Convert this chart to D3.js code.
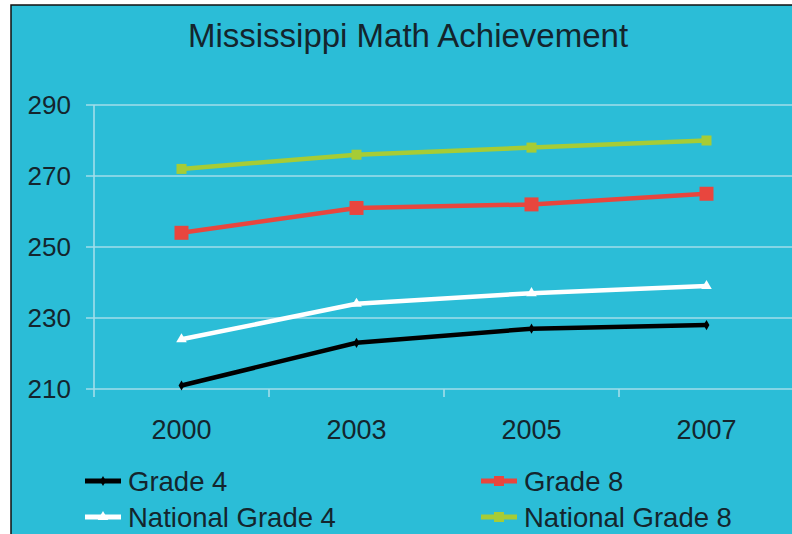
<!DOCTYPE html>
<html>
<head>
<meta charset="utf-8">
<script src="https://cdn.jsdelivr.net/npm/d3@7"></script>
<style>
  body { margin: 0; background: #fff; }
  text { font-family: "Liberation Sans", Arial, sans-serif; fill: #14252d; }
</style>
</head>
<body>
<div id="chart"></div>
<script>
// data
var years = ["2000", "2003", "2005", "2007"];
var grade4 = [211, 223, 227, 228];
var grade8 = [254, 261, 262, 265];
var national4 = [224, 234, 237, 239];
var national8 = [272, 276, 278, 280];
var yTicks = [210, 230, 250, 270, 290];

var series = [
  { name: "Grade 4", values: grade4, color: "#000000", marker: "diamond", size: 7 },
  { name: "National Grade 4", values: national4, color: "#ffffff", marker: "triangle", size: 9 },
  { name: "Grade 8", values: grade8, color: "#e8463e", marker: "square", size: 14 },
  { name: "National Grade 8", values: national8, color: "#a6cc35", marker: "square", size: 10 }
];

var W = 792, H = 534;

var svg = d3.select("#chart").append("svg")
  .attr("width", W)
  .attr("height", H);

// panel background with border
svg.append("rect")
  .attr("x", 11).attr("y", 5)
  .attr("width", 820).attr("height", 560)
  .attr("fill", "#2bbdd7")
  .attr("stroke", "#111")
  .attr("stroke-width", 1.5);

var x = d3.scaleBand()
  .domain(years)
  .range([94, 794]);

var y = d3.scaleLinear()
  .domain([210, 290])
  .range([389, 105]);

var gridColor = "#a3deea";

// horizontal grid lines (with tick stubs on the left)
svg.selectAll("line.grid")
  .data(yTicks)
  .enter().append("line")
  .attr("class", "grid")
  .attr("x1", 86).attr("x2", 794)
  .attr("y1", function (d) { return y(d); })
  .attr("y2", function (d) { return y(d); })
  .attr("stroke", gridColor)
  .attr("stroke-width", 1.6);

// y axis line
svg.append("line")
  .attr("x1", 94).attr("x2", 94)
  .attr("y1", y(290)).attr("y2", y(210) + 8)
  .attr("stroke", gridColor)
  .attr("stroke-width", 1.6);

// x tick marks at band edges
svg.selectAll("line.xtick")
  .data(years)
  .enter().append("line")
  .attr("class", "xtick")
  .attr("x1", function (d) { return x(d) + x.bandwidth(); })
  .attr("x2", function (d) { return x(d) + x.bandwidth(); })
  .attr("y1", y(210)).attr("y2", y(210) + 8)
  .attr("stroke", gridColor)
  .attr("stroke-width", 1.6);

// y labels
svg.selectAll("text.ylab")
  .data(yTicks)
  .enter().append("text")
  .attr("class", "ylab")
  .attr("x", 71)
  .attr("y", function (d) { return y(d); })
  .attr("dy", "0.35em")
  .attr("text-anchor", "end")
  .attr("font-size", "26px")
  .text(function (d) { return d; });

// x labels
svg.selectAll("text.xlab")
  .data(years)
  .enter().append("text")
  .attr("class", "xlab")
  .attr("x", function (d) { return x(d) + x.bandwidth() / 2; })
  .attr("y", 439)
  .attr("text-anchor", "middle")
  .attr("font-size", "27px")
  .text(function (d) { return d; });

// title
svg.append("text")
  .attr("x", 408)
  .attr("y", 47)
  .attr("text-anchor", "middle")
  .attr("font-size", "33px")
  .text("Mississippi Math Achievement");

var line = d3.line()
  .x(function (d, i) { return x(years[i]) + x.bandwidth() / 2; })
  .y(function (d) { return y(d); });

function markerPath(type, size) {
  if (type === "square") return d3.symbol(d3.symbolSquare, size * size)();
  if (type === "diamond") return d3.symbol(d3.symbolDiamond, size * size * 0.6)();
  return d3.symbol(d3.symbolTriangle, size * size * 0.6)();
}

series.forEach(function (s) {
  svg.append("path")
    .datum(s.values)
    .attr("fill", "none")
    .attr("stroke", s.color)
    .attr("stroke-width", 4.5)
    .attr("d", line);

  svg.selectAll(null)
    .data(s.values)
    .enter().append("path")
    .attr("transform", function (d, i) {
      return "translate(" + (x(years[i]) + x.bandwidth() / 2) + "," + y(d) + ")";
    })
    .attr("d", markerPath(s.marker, s.size))
    .attr("fill", s.color);
});

// legend
var legendPos = [
  { x: 85, y: 481 },
  { x: 85, y: 517 },
  { x: 481, y: 481 },
  { x: 481, y: 517 }
];

series.forEach(function (s, i) {
  var p = legendPos[i];
  var g = svg.append("g").attr("transform", "translate(" + p.x + "," + p.y + ")");
  g.append("line")
    .attr("x1", 0).attr("x2", 36)
    .attr("y1", 0).attr("y2", 0)
    .attr("stroke", s.color)
    .attr("stroke-width", 5);
  g.append("path")
    .attr("transform", "translate(18,0)")
    .attr("d", markerPath(s.marker, Math.min(s.size, 10)))
    .attr("fill", s.color);
  g.append("text")
    .attr("x", 43)
    .attr("y", 10)
    .attr("font-size", "27.5px")
    .text(s.name);
});
</script>
</body>
</html>
